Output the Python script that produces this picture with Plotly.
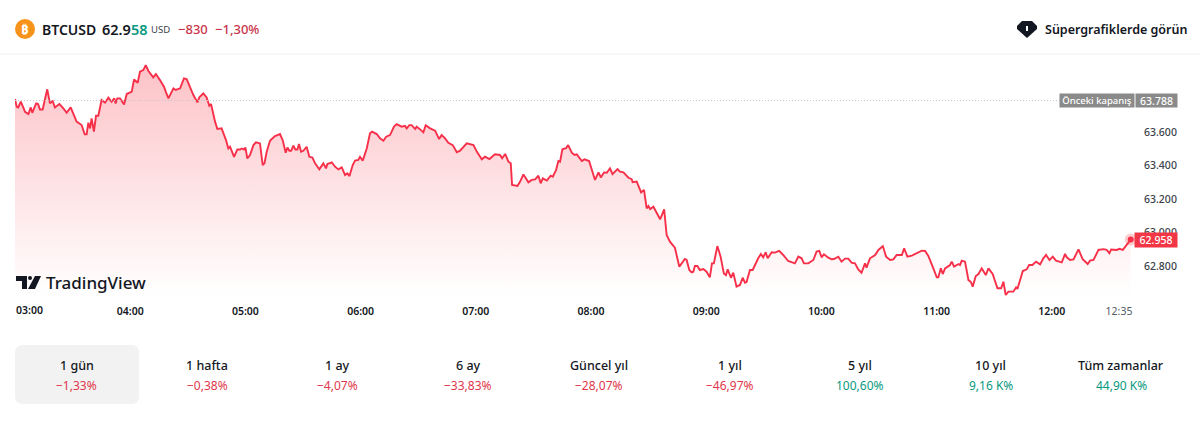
import plotly.graph_objects as go

# Minutes since 03:00 and the BTCUSD price at each sampled moment
minutes = [
    0, 0.9, 1.7, 3.0, 4.3, 5.2, 7.0, 8.2, 9.0, 11, 12, 13, 14.4, 16.8, 18.2, 19.6, 20.8, 23.1, 25.2, 26.9,
    29, 32.1, 34.7, 36.3, 37.3, 38.2, 39.1, 39.9, 41.1, 42.2, 43.4, 45.1, 46.9, 48.6, 50.3, 51.7, 52.4, 53.3, 54.7, 56.8,
    58.2, 60.8, 62, 63.9, 65.1, 66.8, 68.1, 69.4, 72, 73.4, 75.5, 77.6, 78.5, 79.9, 82.5, 83.7, 86, 88, 89.4, 91.1,
    92.9, 95, 96, 98.1, 99.8, 101.2, 102.1, 104.2, 105.4, 107.6,
    109.9, 111.1, 112, 114.1, 115.8, 117.2, 118.1, 119.3, 120, 121, 122.4, 124.2, 125.5, 127.6, 129, 129.9, 131.1, 132.8,
    135.4, 136.7, 138, 139.4, 141, 141.9, 142.9, 143.8, 145, 146, 147.1, 147.9, 149, 150.2, 151.9, 153.3, 154.9, 156.3,
    158.5, 160.6, 162, 162.7, 165, 166.7, 168.4, 170.2, 171.9, 173.1, 174.2, 175.9, 177.1, 178.8, 179.7, 181.1, 183.2,
    184.9, 186, 188.4, 190.1, 191.9, 193.3, 195.3, 197.4, 198.8, 201.4, 203.1, 204, 205.4, 206.6, 208.4, 209.2, 211,
    212.7, 213.9, 216.2, 218.8, 220.9, 222.2, 224, 225.7,
    228, 230.1, 231.8, 235.3, 238.8, 240.5, 243.1, 244.8, 247.1, 250, 252.6, 253.7, 255.3, 257, 258.2, 258.9, 261.7,
    263.1, 264.8, 267.4, 269.1, 270.9, 272.6, 273.8, 274.9, 277, 279, 280.1, 281.8, 283, 283.9, 285.1, 287, 288.1, 290,
    291.4, 292.6, 295.2, 296.6, 299, 302.1, 303.9, 305.1, 306.8, 308.2, 309.9, 311.2, 313.8, 315.1, 316.9, 319.5, 321.2,
    321.7, 323.8, 326.1, 327.6, 329, 329.9, 330.8, 332.5, 336, 338.1,
    339.4, 341.1, 343.7, 346, 348.9, 349.8, 351.2, 352.4, 353.3, 354.1, 355.4, 356.7, 358.5, 360.2, 361.9, 363, 364,
    365.8, 367.5, 369.2, 370.3, 371.2, 372.9, 374.1, 375.8, 377.6, 379, 380.2, 381, 382.8, 384.2, 387.1, 388.5, 389.7,
    391, 392, 394.1, 395.8, 398, 400.1, 402.7, 406.2,
    408, 409.7, 410.9, 413.2, 415.8, 417.5, 418.9, 420.1, 421.3, 423.6, 425.3, 426.5, 428.8, 430.5, 432.3, 434, 435.7,
    437.5, 439.2, 440.9, 442.7, 443.5, 445.3,
    448, 449.7, 452, 453.7, 455.8, 457.5, 459.2, 461.9, 463.1, 464.8, 467.1, 469.7, 472.3, 474, 475.7, 478.3, 480.1,
    480.9, 482.2, 483.2, 484.4, 487, 487.9, 489.1, 491.4, 492.2, 493.1, 494.8, 496.6, 497.8, 498.8, 500.4, 501.8, 503.5,
    505.6, 507, 509.2, 511.7, 513.6, 514.8, 516, 517.4, 520, 521.4, 522.1, 524.9, 526.9, 528.2, 529.9, 531.8, 533.9,
    535.6, 537, 538.8, 540.5, 542.2, 545.2, 546.9, 547.8, 549.5, 551.3, 553.9, 556.1, 558.7, 559.9, 561.7, 564.3, 566.9,
    568.6, 570, 570.9, 573.8, 575.2, 577, 579, 581.1,
]
prices = [
    63797, 63751, 63747, 63781, 63747, 63721, 63707, 63747, 63715, 63771, 63767, 63735, 63735, 63855, 63771, 63785, 63747, 63767, 63741, 63715,
    63747, 63662, 63642, 63586, 63586, 63656, 63622, 63682, 63602, 63697, 63697, 63791, 63775, 63805, 63781, 63801, 63771, 63801, 63801, 63765,
    63827, 63841, 63914, 63894, 63960, 63970, 64000, 63966, 63926, 63946, 63910, 63871, 63841, 63801, 63861, 63851, 63861, 63920, 63916, 63871,
    63821, 63777, 63807, 63831, 63807, 63757, 63767, 63662, 63618, 63622,
    63552, 63502, 63512, 63452, 63496, 63496, 63502, 63496, 63508, 63442, 63462, 63522, 63538, 63532, 63403, 63413, 63482, 63548,
    63576, 63582, 63588, 63552, 63476, 63508, 63488, 63488, 63518, 63496, 63496, 63528, 63482, 63488, 63512, 63452, 63448, 63413,
    63377, 63413, 63383, 63409, 63419, 63393, 63377, 63389, 63343, 63353, 63337, 63403, 63429, 63433, 63452, 63429, 63502,
    63592, 63602, 63588, 63562, 63548, 63572, 63582, 63632, 63647, 63632, 63637, 63622, 63641, 63641, 63618, 63632, 63616,
    63598, 63641, 63622, 63608, 63558, 63582, 63562, 63536,
    63522, 63479, 63489, 63532, 63522, 63483, 63437, 63453, 63439, 63467, 63463, 63443, 63469, 63423, 63413, 63284, 63278,
    63304, 63347, 63300, 63314, 63317, 63339, 63294, 63323, 63310, 63339, 63333, 63373, 63427, 63423, 63497, 63503, 63522, 63477,
    63463, 63467, 63427, 63437, 63427, 63314, 63359, 63329, 63359, 63357, 63383, 63349, 63379, 63363, 63359, 63327, 63319,
    63300, 63304, 63240, 63254, 63144, 63158, 63140, 63154, 63079, 63138,
    62985, 62945, 62909, 62796, 62842, 62836, 62776, 62762, 62766, 62800, 62800, 62776, 62782, 62766, 62732, 62816, 62816,
    62919, 62856, 62756, 62746, 62780, 62730, 62760, 62677, 62687, 62730, 62700, 62704, 62776, 62776, 62846, 62872, 62852,
    62882, 62846, 62882, 62880, 62890, 62866, 62830, 62816,
    62856, 62846, 62816, 62816, 62836, 62886, 62890, 62852, 62870, 62850, 62840, 62842, 62856, 62826, 62844, 62844, 62820,
    62816, 62780, 62760, 62816, 62790, 62846,
    62866, 62896, 62919, 62856, 62836, 62840, 62866, 62866, 62905, 62856, 62862, 62876, 62892, 62890, 62860, 62786, 62732,
    62732, 62786, 62752, 62786, 62806, 62826, 62796, 62812, 62806, 62832, 62826, 62716, 62706, 62677, 62740, 62752, 62786,
    62746, 62786, 62752, 62667, 62667, 62706, 62627, 62647, 62647, 62673, 62663, 62770, 62780, 62806, 62806, 62826, 62810,
    62846, 62866, 62836, 62856, 62832, 62822, 62872, 62852, 62836, 62840, 62899, 62840, 62812, 62832, 62836, 62896, 62901,
    62896, 62876, 62899, 62896, 62903, 62896, 62925, 62958,
]
previous_close = 63788

time_ticks = [60, 120, 180, 240, 300, 360, 420, 480, 540, 575]
time_labels = ["04:00", "05:00", "06:00", "07:00", "08:00", "09:00", "10:00", "11:00", "12:00", "12:35"]
price_ticks = [62800, 63000, 63200, 63400, 63600]
price_labels = ["62.800", "63.000", "63.200", "63.400", "63.600"]

periods = ["1 gün", "1 hafta", "1 ay", "6 ay", "Güncel yıl", "1 yıl", "5 yıl", "10 yıl", "Tüm zamanlar"]
period_changes = ["−1,33%", "−0,38%", "−4,07%", "−33,83%", "−28,07%", "−46,97%", "100,60%", "9,16 K%", "44,90 K%"]

W, H = 1200, 435
LEFT, RIGHT, TOP, BOTTOM = 15, 1131, 55, 298
FONT = "Noto Sans"
RED = "#f23645"
LINE = "#f7304a"
GREEN = "#089981"
INK = "#131722"


def px(x):
    return (x - LEFT) / (RIGHT - LEFT)


def py(y):
    return (BOTTOM - y) / (BOTTOM - TOP)


def path(*cmds):
    # Page-pixel path commands, expressed in paper coordinates
    out = []
    for c in cmds:
        if isinstance(c, str):
            out.append(c)
        else:
            out.append(f"{px(c[0]):.5f},{py(c[1]):.5f}")
    return " ".join(out)


def label(x, y, text, size=12, color=INK, anchor="center", weight=400, **kw):
    return dict(
        xref="paper", yref="paper", x=px(x), y=py(y), text=text, showarrow=False,
        xanchor=anchor, yanchor="middle", font=dict(family=FONT, size=size, color=color, weight=weight),
        borderpad=0, **kw,
    )


fig = go.Figure()

fig.add_trace(go.Scatter(
    x=minutes, y=prices, mode="lines", fill="tozeroy",
    line=dict(color=LINE, width=1.9, shape="linear"),
    fillcolor="rgba(242,54,69,0.2)",
    fillgradient=dict(
        type="vertical",
        start=64000, stop=62620,
        colorscale=[[0, "rgba(247,60,75,0.31)"], [1, "rgba(247,60,75,0)"]],
    ),
    hoverinfo="skip", showlegend=False,
))
fig.add_trace(go.Scatter(
    x=minutes[-1:], y=prices[-1:], mode="markers",
    marker=dict(size=12, color="rgba(242,54,69,0.25)", line=dict(width=0)),
    hoverinfo="skip", showlegend=False, cliponaxis=False,
))
fig.add_trace(go.Scatter(
    x=minutes[-1:], y=prices[-1:], mode="markers",
    marker=dict(size=6, color=LINE, line=dict(width=0)),
    hoverinfo="skip", showlegend=False, cliponaxis=False,
))

shapes = [
    # header divider
    dict(type="line", xref="paper", yref="paper", x0=px(0), x1=px(W), y0=py(54), y1=py(54),
         line=dict(color="#eeeeee", width=1), layer="below"),
    # previous close level
    dict(type="line", xref="x", yref="y", x0=minutes[0], x1=(1060 - LEFT) / 1.92, y0=previous_close, y1=previous_close,
         line=dict(color="#c6c6c6", width=1, dash="1px,2px"), layer="above"),
    # bitcoin badge
    dict(type="circle", xref="paper", yref="paper", x0=px(15), x1=px(35), y0=py(39), y1=py(19),
         fillcolor="#f7931a", line=dict(width=0)),
    # super chart gem
    dict(type="path", xref="paper", yref="paper", fillcolor="#131722", line=dict(width=0),
         path=path("M", (1022, 21), "L", (1032, 21), "L", (1037, 26), "L", (1037, 29), "L", (1027, 38),
                   "L", (1017, 29), "L", (1017, 26), "Z")),
    dict(type="path", xref="paper", yref="paper", fillcolor="#ffffff", line=dict(width=0),
         path=path("M", (1026, 26), "L", (1028, 26), "L", (1028, 31), "L", (1026, 31), "Z")),
    # TradingView mark
    dict(type="path", xref="paper", yref="paper", fillcolor="#131722", line=dict(width=0),
         path=path("M", (16, 276), "L", (27, 276), "L", (27, 289), "L", (22, 289), "L", (22, 281), "L", (16, 281), "Z")),
    dict(type="circle", xref="paper", yref="paper", fillcolor="#131722", line=dict(width=0),
         x0=px(28), x1=px(32), y0=py(280), y1=py(276)),
    dict(type="path", xref="paper", yref="paper", fillcolor="#131722", line=dict(width=0),
         path=path("M", (35, 276), "L", (41, 276), "L", (35, 289), "L", (28, 289), "Z")),
    # selected period card
    dict(type="path", xref="paper", yref="paper", fillcolor="#f2f2f2", line=dict(width=0), layer="below",
         path=path("M", (23, 345), "L", (131, 345), "Q", (139, 345), (139, 353), "L", (139, 396),
                   "Q", (139, 404), (131, 404), "L", (23, 404), "Q", (15, 404), (15, 396),
                   "L", (15, 353), "Q", (15, 345), (23, 345), "Z")),
]

annotations = [
    label(25, 29, "<b>₿</b>", size=13, color="#ffffff"),
    label(41, 29, "BTCUSD", size=14, anchor="left", weight=600),
    label(101, 29, f"62.9<span style='color:{GREEN}'>58</span>", size=14.5, anchor="left", weight=600),
    label(150, 30, "USD", size=9.5, color="#3b3f4a", anchor="left"),
    label(177, 29, "−830", size=13, color="#c8354a", anchor="left", weight=500),
    label(214, 29, "−1,30%", size=13, color="#c8354a", anchor="left", weight=500),
    label(1044, 29, "Süpergrafiklerde görün", size=12.5, anchor="left", weight=600),
    label(45, 282, "TradingView", size=17, anchor="left", weight=500),
    label(15, 310, "03:00", size=10.5, anchor="left", weight=600),
    # price scale badges
    label(1097, 100.5, "Önceki kapanış", size=9.5, color="#ffffff", bgcolor="#8a8a8a", width=74, height=13, weight=500),
    label(1156.5, 100.5, "63.788", size=10.5, color="#ffffff", bgcolor="#8a8a8a", width=41, height=13, weight=500),
    label(1156, 239.5, "62.958", size=10.5, color="#ffffff", bgcolor=RED, width=42, height=14, weight=500),
]

for i, (name, change) in enumerate(zip(periods, period_changes)):
    cx = 76.5 + i * 130.6
    colour = GREEN if not change.startswith("−") else "#e0374b"
    annotations.append(label(cx, 365, name, size=12.5, weight=500))
    annotations.append(label(cx, 385, change, size=12, color=colour))

fig.update_layout(
    width=W, height=H,
    margin=dict(l=LEFT, r=W - RIGHT, t=TOP, b=H - BOTTOM, pad=0),
    paper_bgcolor="#ffffff", plot_bgcolor="rgba(0,0,0,0)",
    shapes=shapes, annotations=annotations,
    xaxis=dict(
        range=[0, (RIGHT - LEFT) / 1.92], tickmode="array", tickvals=time_ticks,
        ticktext=time_labels[:-1] + [f"<span style='color:#555a66;font-weight:400'>{time_labels[-1]}</span>"],
        showgrid=False, zeroline=False, showline=False, ticks="", ticklabelstandoff=5,
        tickfont=dict(family=FONT, size=10.5, color=INK, weight=600),
    ),
    yaxis=dict(
        range=[62609, 64060], side="right", tickmode="array", tickvals=price_ticks, ticktext=price_labels,
        showgrid=False, zeroline=False, showline=False, ticks="", ticklabelstandoff=12,
        tickfont=dict(family=FONT, size=10.5, color="#3b3f4a", weight=500),
    ),
)

fig.write_html("out.html", config=dict(displayModeBar=False))
